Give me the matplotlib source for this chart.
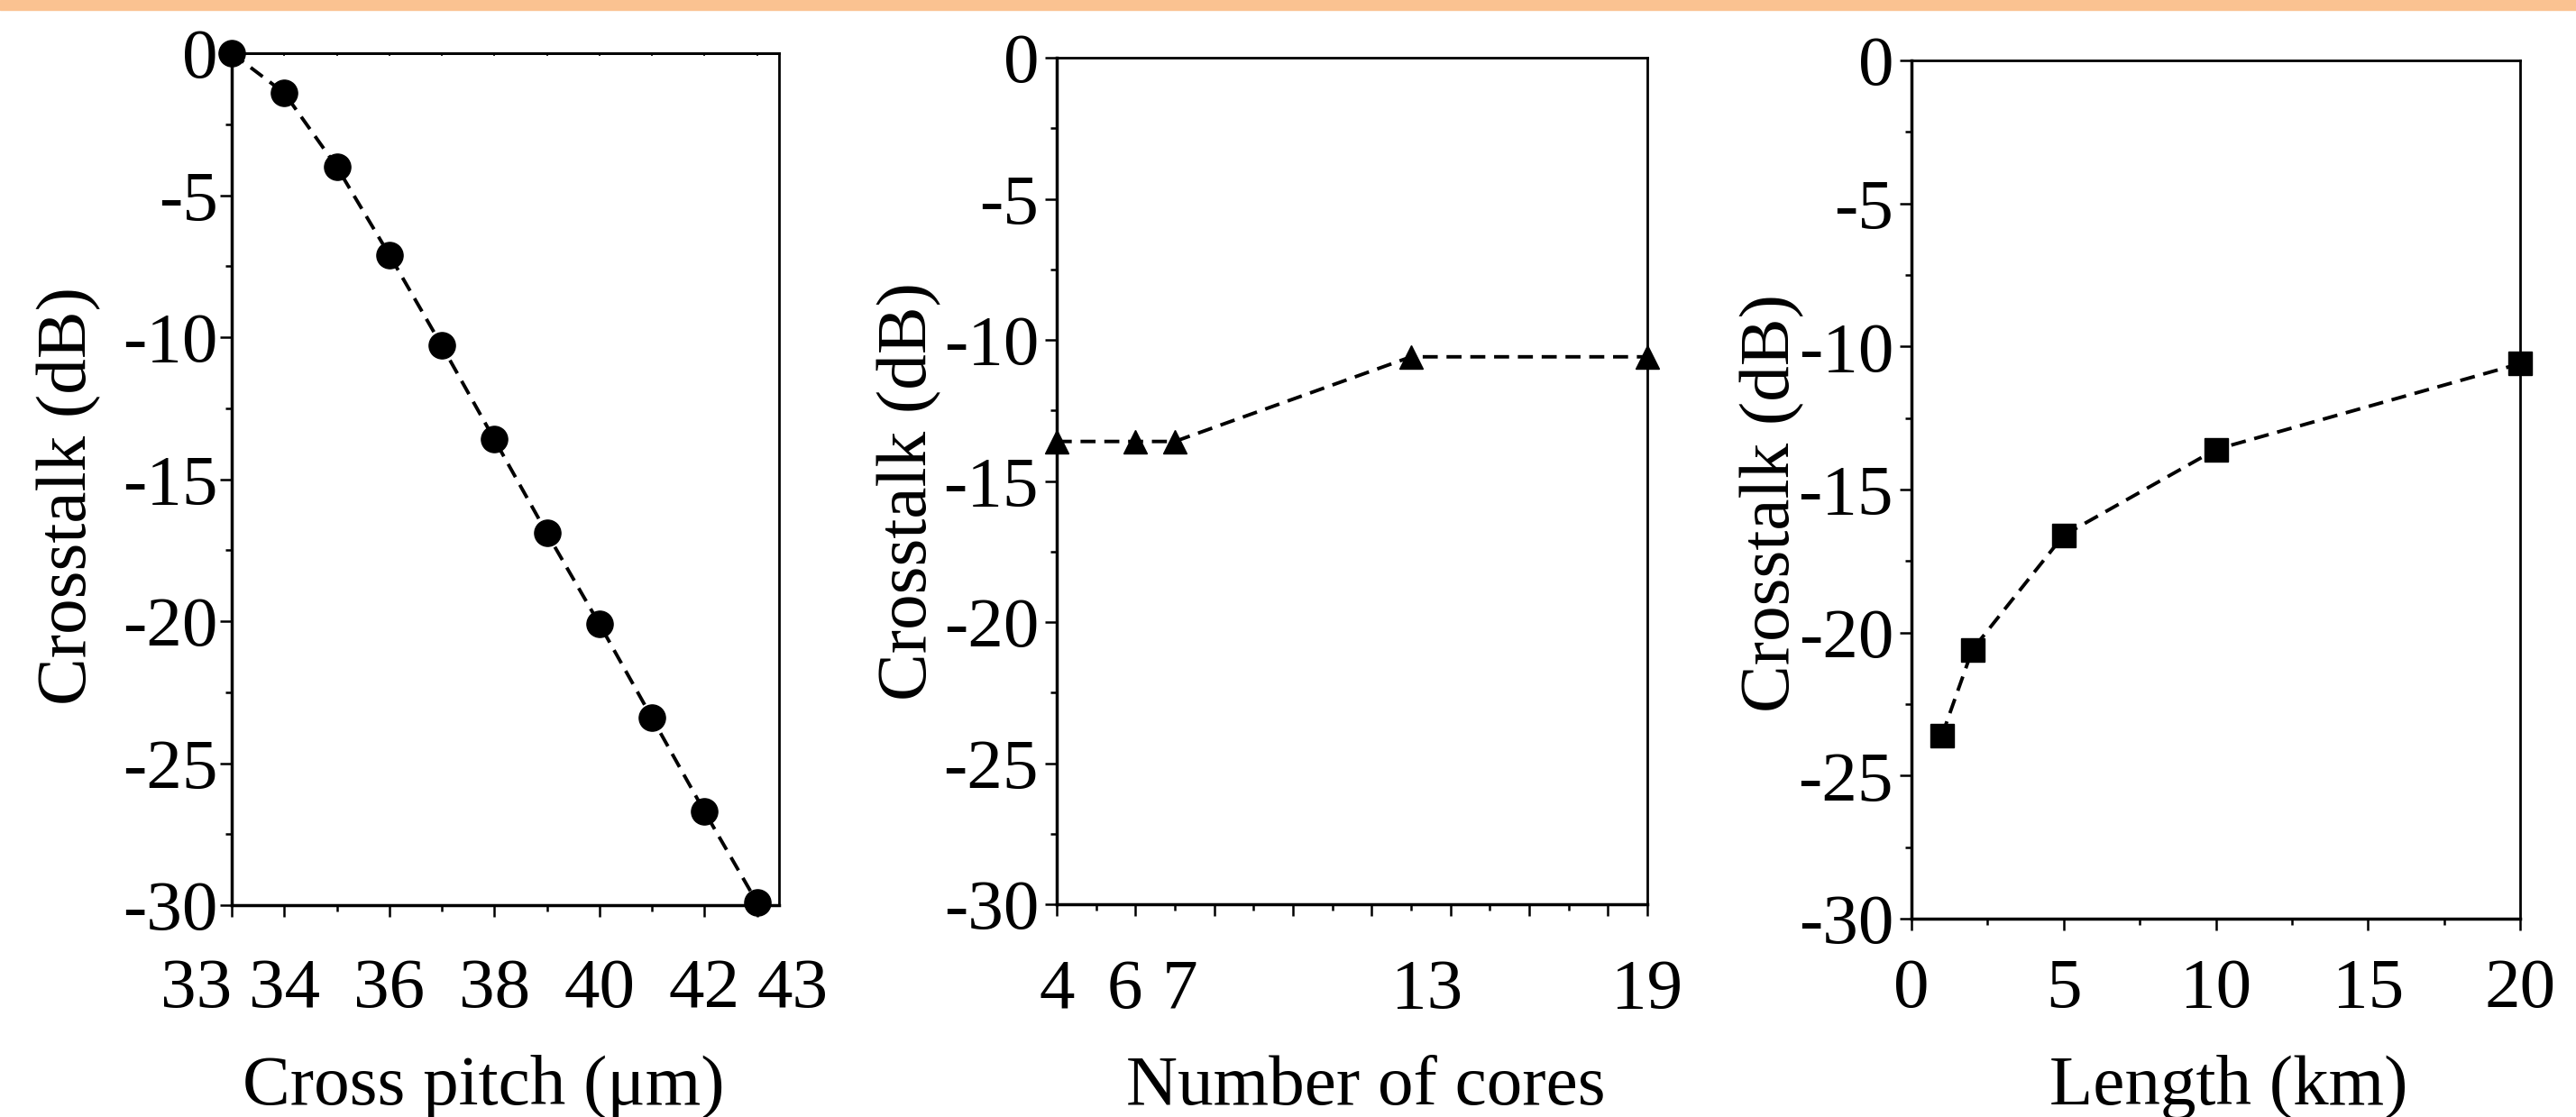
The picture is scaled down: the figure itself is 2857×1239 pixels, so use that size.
import matplotlib
matplotlib.use('Agg')
import matplotlib.pyplot as plt
from matplotlib.patches import Rectangle
from matplotlib.ticker import MultipleLocator, FixedLocator
from matplotlib.transforms import ScaledTranslation

plt.rcParams['font.family'] = ['Liberation Serif', 'DejaVu Serif']
plt.rcParams['axes.unicode_minus'] = False
plt.rcParams['lines.scale_dashes'] = False

# data
pitch = [33, 34, 35, 36, 37, 38, 39, 40, 41, 42, 43]
xt_pitch = [0, -1.4, -4.0, -7.1, -10.3, -13.6, -16.9, -20.1, -23.4, -26.7, -29.9]

cores = [4, 6, 7, 13, 19]
xt_cores = [-13.6, -13.6, -13.6, -10.6, -10.6]

length_km = [1, 2, 5, 10, 20]
xt_length = [-23.6, -20.6, -16.6, -13.6, -10.6]

y_ticks = [0, -5, -10, -15, -20, -25, -30]
pitch_ticks = [33, 34, 36, 38, 40, 42, 43]
core_major = [4, 6, 8, 10, 12, 14, 16, 18, 19]
core_major_lbl = ['4', '6', '', '', '', '', '', '', '19']
core_minor = [5, 7, 9, 11, 13, 15, 17]
core_minor_lbl = ['', '7', '', '', '13', '', '']

W, H = 2857, 1239
FS = 57
MAJ, MIN = 9.4, 5.0

fig = plt.figure(figsize=(W / 100, H / 100), dpi=100)
fig.patches.append(Rectangle((0, 1 - 11 / H), 1, 11 / H, transform=fig.transFigure,
                             color='#FAC291', zorder=0))


def box(l, t, r, b):
    return [l / W, 1 - b / H, (r - l) / W, (b - t) / H]


def style(ax, xpad, ypad):
    ax.set_ylim(-30, 0)
    ax.set_yticks(y_ticks)
    ax.set_yticklabels([str(v) for v in y_ticks])
    ax.yaxis.set_minor_locator(MultipleLocator(2.5))
    ax.tick_params(which='both', direction='out', width=1.8, labelsize=FS,
                   top=False, right=False)
    ax.tick_params(which='major', length=MAJ)
    ax.tick_params(which='minor', length=MIN)
    ax.tick_params(axis='x', which='major', pad=xpad)
    ax.tick_params(axis='x', which='minor', pad=xpad + MAJ - MIN)
    ax.tick_params(axis='y', pad=ypad)
    for s in ['left', 'bottom']:
        ax.spines[s].set_linewidth(2.5)
    for s in ['top', 'right']:
        ax.spines[s].set_linewidth(2.0)


def draw(ax, x, y, marker, ms):
    ax.plot(x, y, color='black', linestyle=(0, (12, 7)), lw=2.8,
            marker=marker, ms=ms, clip_on=False, zorder=3)


def nudge(label, dx_px):
    label.set_transform(label.get_transform() +
                        ScaledTranslation(dx_px / 100, 0, fig.dpi_scale_trans))


# panel 1: cross pitch
ax1 = fig.add_axes(box(257, 59, 864, 1004))
ax1.set_xlim(33, 43.42)
style(ax1, 33, 1.5)
ax1.set_xticks(pitch_ticks)
ax1.set_xticklabels([str(v) for v in pitch_ticks])
ax1.xaxis.set_minor_locator(FixedLocator([35, 37, 39, 41]))
lbls = ax1.get_xticklabels()
lbls[0].set_ha('right')
lbls[-1].set_ha('left')
top = ax1.secondary_xaxis('top')
top.set_xticks(range(34, 44))
top.tick_params(direction='in', length=2.5, width=1.2, labeltop=False)
top.spines['top'].set_linewidth(2.0)
draw(ax1, pitch, xt_pitch, 'o', 21)

# panel 2: number of cores
ax2 = fig.add_axes(box(1172, 64, 1827, 1003))
ax2.set_xlim(4, 19)
style(ax2, 34, 5)
ax2.set_xticks(core_major)
ax2.set_xticklabels(core_major_lbl)
ax2.set_xticks(core_minor, minor=True)
ax2.set_xticklabels(core_minor_lbl, minor=True)
ax2.tick_params(axis='x', which='minor', labelsize=FS)
nudge(ax2.get_xticklabels()[1], -12)
nudge(ax2.get_xticklabels(minor=True)[1], 6)
nudge(ax2.get_xticklabels(minor=True)[4], 18)
draw(ax2, cores, xt_cores, '^', 19)

# panel 3: length
ax3 = fig.add_axes(box(2120, 67, 2795, 1019))
ax3.set_xlim(0, 20)
style(ax3, 22, 5)
ax3.set_xticks([0, 5, 10, 15, 20])
ax3.set_xticklabels(['0', '5', '10', '15', '20'])
ax3.xaxis.set_minor_locator(MultipleLocator(2.5))
draw(ax3, length_km, xt_length, 's', 19)

# axis titles
for xc, txt in [(536, 'Cross pitch (\u03bcm)'), (1515, 'Number of cores'), (2472, 'Length (km)')]:
    fig.text(xc / W, 1 - 1225 / H, txt, fontsize=FS, ha='center', va='baseline')
for xb, yc in [(95, 550), (1027, 545), (1984, 558)]:
    fig.text(xb / W, 1 - yc / H, 'Crosstalk (dB)', fontsize=FS, rotation=90,
             rotation_mode='anchor', ha='center', va='baseline')

fig.savefig('out.png', dpi=100)
